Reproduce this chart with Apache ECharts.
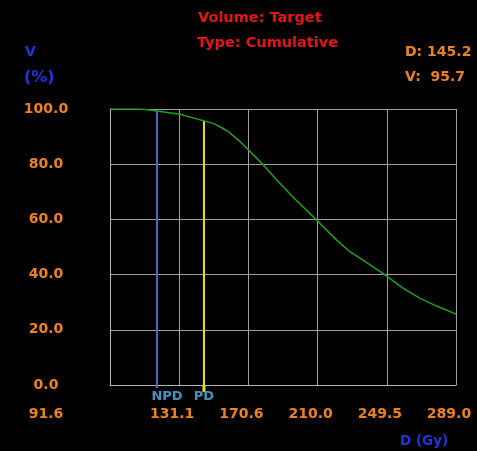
<!DOCTYPE html>
<html>
<head>
<meta charset="utf-8">
<script src="https://cdn.jsdelivr.net/npm/echarts@6/dist/echarts.min.js"></script>
<style>
  html, body { margin: 0; padding: 0; background: #000; }
  #chart { width: 477px; height: 451px; }
</style>
</head>
<body>
<div id="chart"></div>
<script>
// Cumulative dose-volume histogram for the target volume
const doseGy = [91.6, 106.8, 112.0, 118.4, 131.5, 145.2, 150.5, 155.3, 159.1, 165.8, 171.1, 178.2, 186.7, 197.1, 210.7, 220.9, 228.5, 240.0, 248.5, 259.0, 268.5, 278.0, 289.0];
const volumePct = [100.0, 100.0, 99.8, 99.3, 98.1, 95.7, 94.8, 93.2, 91.8, 88.2, 84.9, 80.3, 74.3, 67.4, 59.0, 52.5, 48.3, 43.5, 39.9, 35.0, 31.4, 28.6, 25.7];

// Reference dose markers
const npdDose = 118.4, npdVolume = 99.3;
const pdDose = 145.2, pdVolume = 95.7;

// Axis ticks
const xTickLabels = ['91.6', '131.1', '170.6', '210.0', '249.5', '289.0'];
const yTickLabels = ['0.0', '20.0', '40.0', '60.0', '80.0', '100.0'];
const xMin = 91.6, xMax = 289.0;
const xSteps = xTickLabels.length - 1;
const xStep = (xMax - xMin) / xSteps;

// dose axis runs in tick-step units so the first tick sits at the minimum dose
const toAxis = d => (d - xMin) / xStep;

const ORANGE = '#f0821e';
const FONT = 'DejaVu Sans';

const chart = echarts.init(document.getElementById('chart'), null, { renderer: 'canvas' });

const txt = (text, x, y, fill, size) => ({
  type: 'text', x: x, y: y,
  style: { text: text, fill: fill, font: 'bold ' + size + 'px "' + FONT + '"', textVerticalAlign: 'middle' }
});

chart.setOption({
  backgroundColor: '#000000',
  animation: false,
  grid: { left: 110, right: 21, top: 109, bottom: 66, containLabel: false },
  xAxis: {
    type: 'value', min: 0, max: xSteps, interval: 1,
    axisLine: { show: true, lineStyle: { color: '#b4b4b4', width: 1 } },
    axisTick: { show: false },
    splitLine: { show: true, lineStyle: { color: '#a0a0a0', width: 1 } },
    axisLabel: {
      margin: 22,
      formatter: v => {
        const i = Math.round(v);
        return (i === 0 ? '{first|' : '{rest|') + xTickLabels[i] + '}';
      },
      rich: {
        first: { color: ORANGE, fontFamily: FONT, fontWeight: 'bold', fontSize: 14, padding: [0, 128, 0, 0] },
        rest: { color: ORANGE, fontFamily: FONT, fontWeight: 'bold', fontSize: 14, padding: [0, 14, 0, 0] }
      }
    }
  },
  yAxis: {
    type: 'value', min: 0, max: 100, interval: 20,
    axisLine: { show: true, lineStyle: { color: '#b4b4b4', width: 1 } },
    axisTick: { show: false },
    splitLine: { show: true, lineStyle: { color: '#a0a0a0', width: 1 } },
    axisLabel: {
      margin: 64, align: 'center',
      color: ORANGE, fontFamily: FONT, fontWeight: 'bold', fontSize: 14,
      padding: [5, 0, 0, 0],
      formatter: v => yTickLabels[Math.round(v / 20)]
    }
  },
  series: [
    {
      name: 'NPD', type: 'line', clip: false, symbol: 'none', z: 3,
      lineStyle: { color: '#4a70c0', width: 2 },
      data: [[toAxis(npdDose), npdVolume], [toAxis(npdDose), -1.1]]
    },
    {
      name: 'PD', type: 'line', clip: false, symbol: 'none', z: 3,
      lineStyle: { color: '#e6e600', width: 2 },
      data: [[toAxis(pdDose), pdVolume], [toAxis(pdDose), 0]]
    },
    {
      name: 'PD foot', type: 'line', clip: false, symbol: 'none', z: 3,
      lineStyle: { color: '#e6e600', width: 3 },
      data: [[toAxis(pdDose), 0], [toAxis(pdDose), -2.5]]
    },
    {
      name: 'DVH', type: 'line', symbol: 'none', smooth: false, z: 4,
      lineStyle: { color: '#1ea01e', width: 1.5 },
      data: doseGy.map((d, i) => [toAxis(d), volumePct[i]])
    },
    {
      name: 'markers', type: 'scatter', clip: false, symbolSize: 0, z: 5,
      label: {
        show: true, position: 'bottom', distance: 5,
        color: '#5ab4ec', fontFamily: FONT, fontWeight: 'bold', fontSize: 13,
        formatter: p => p.name
      },
      data: [
        { name: 'NPD', value: [toAxis(npdDose), 0], label: { offset: [10, 0] } },
        { name: 'PD', value: [toAxis(pdDose), 0], label: { offset: [0, 0] } }
      ]
    }
  ],
  graphic: [
    txt('Volume: Target', 198, 18, '#e61414', 14.5),
    txt('Type: Cumulative', 197, 43, '#e61414', 14.5),
    txt('V', 25, 52, '#2233e0', 14),
    txt('(%)', 24, 78, '#2233e0', 16),
    txt('D: ' + pdDose.toFixed(1), 405, 52.5, ORANGE, 14),
    txt('V:  ' + pdVolume.toFixed(1), 405, 77.5, ORANGE, 14),
    txt('D (Gy)', 400, 441.5, '#2233e0', 13.5)
  ]
});
</script>
</body>
</html>
